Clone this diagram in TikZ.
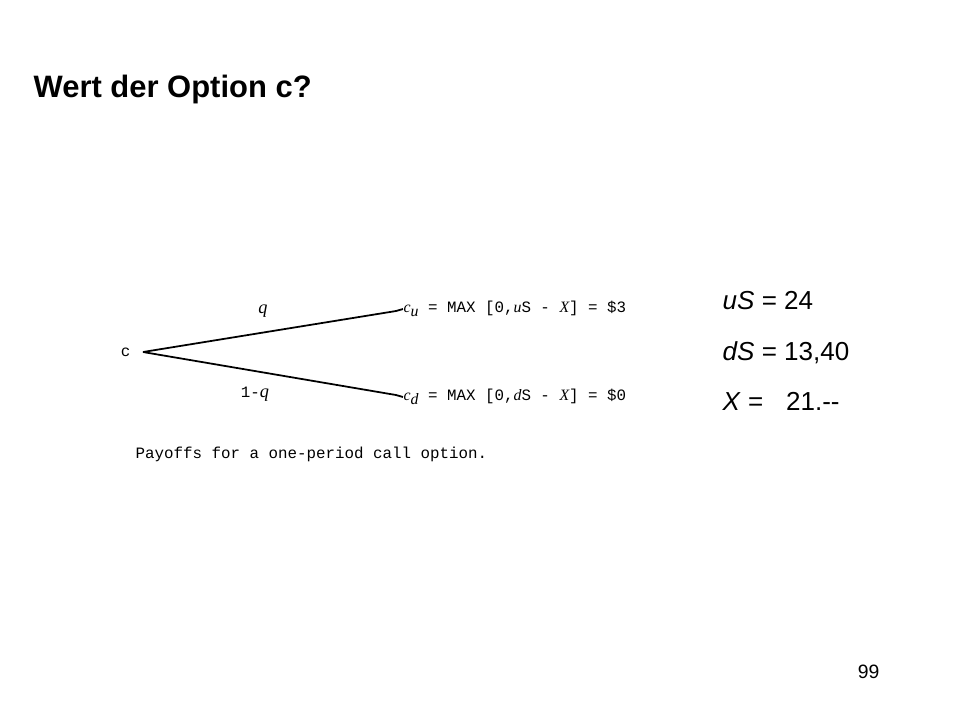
\documentclass[tikz,border=0pt]{standalone}
\usepackage{fontspec}
\setmainfont{Liberation Sans}
\setmonofont{Liberation Mono}
\newfontfamily\timesfont{Liberation Serif}
\newcommand{\vi}[1]{{\timesfont\itshape #1}}
\begin{document}
\begin{tikzpicture}[x=0.01cm,y=-0.01cm,every node/.style={inner sep=0pt},
    mono/.style={font=\fontsize{4.5}{5}\selectfont\ttfamily},
    side/.style={anchor=base west,font=\fontsize{7.4}{9}\selectfont}]
    \useasboundingbox(0,0)rectangle(960,720);
    \node[anchor=base west,font=\fontsize{8.8}{10}\selectfont\bfseries](0)at(33,97){Wert der Option c?};
    \node[mono,anchor=east](1)at(131,352){c};
    \coordinate(2)at(143,352);
    \coordinate(3)at(396,311);
    \coordinate(4)at(396,395);
    \node[mono,anchor=west](5)at(403,309){\vi{c}\raisebox{-0.45ex}{\vi{u}} = MAX [0,\vi{u}S - \vi{X}] = \$3};
    \node[mono,anchor=west](6)at(403,397){\vi{c}\raisebox{-0.45ex}{\vi{d}} = MAX [0,\vi{d}S - \vi{X}] = \$0};
    \node[mono](7)at(263,311){\fontsize{5.2}{6}\selectfont\vi{q}};
    \node[mono](8)at(255,394){1-\fontsize{5.2}{6}\selectfont\vi{q}};
    \node[mono,anchor=west](9)at(135,454){Payoffs for a one-period call option.};
    \node[side](10)at(722,309){\textit{uS} = 24};
    \node[side](11)at(722,360){\textit{dS} = 13,40};
    \node[side](12)at(722,410){\textit{X} =\hspace{0.6em} 21.{-}{-}};
    \node[anchor=base east,font=\fontsize{5.5}{7}\selectfont](13)at(880,678){99};
    \draw[line width=0.5pt](2)--(3);
    \draw[line width=0.5pt](2)--(4);
    \draw[line width=0.5pt](3)--(5.west);
    \draw[line width=0.5pt](4)--(6.west);
\end{tikzpicture}
\end{document}
